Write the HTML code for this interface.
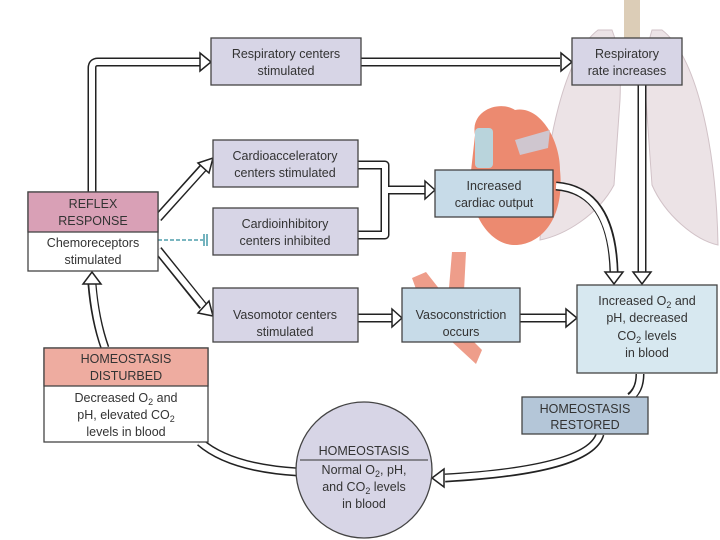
<!DOCTYPE html>
<html><head><meta charset="utf-8"><style>
html,body{margin:0;padding:0;background:#fff;}
svg{display:block;}
text{font-family:"Liberation Sans",sans-serif;font-size:12.5px;fill:#333;text-anchor:middle;}
</style></head><body>
<svg width="720" height="540" viewBox="0 0 720 540" xmlns="http://www.w3.org/2000/svg">
<!-- lungs -->
<g opacity="0.9">
<path d="M598,30 C565,55 545,140 540,240 C565,235 598,215 614,185 L620,100 Q622,55 612,30 Z" fill="#ebe0e4" stroke="#cdbcc2"/>
<path d="M662,30 C695,55 716,140 718,245 C695,240 665,215 652,185 L646,100 Q644,55 652,30 Z" fill="#ebe0e4" stroke="#cdbcc2"/>
<rect x="624" y="0" width="16" height="40" fill="#d9c8b0"/>
</g>
<!-- heart -->
<path d="M475,135 C470,110 500,100 515,110 C540,105 560,140 560,170 C565,220 540,245 515,245 C490,245 470,215 470,180 Z" fill="#ec8a70"/>
<rect x="475" y="128" width="18" height="40" rx="4" fill="#b9d4dc"/>
<path d="M515,140 L550,130 L548,148 L520,155 Z" fill="#cfc6cf"/>
<!-- vessel -->
<path d="M452,252 L466,252 L462,330 L482,350 L476,364 L450,340 L420,300 L412,278 L426,272 L448,300 Z" fill="#ee9d8a"/>

<!-- hollow arrows -->
<g fill="none" stroke-linejoin="round">
<g stroke="#222" stroke-width="9">
<path d="M92,192 V68 Q92,62 98,62 H200"/>
<path d="M361,62 H560"/>
<path d="M642,85 V272"/>
<path d="M556,186 Q612,190 614,272"/>
<path d="M158,218 L203,168"/>
<path d="M158,250 L203,306"/>
<path d="M358,165 H385 V235 H358 M385,190 H425"/>
<path d="M358,318 H392"/>
<path d="M520,318 H566"/>
<path d="M640,374 Q640,390 630,397"/>
<path d="M600,434 Q590,470 445,478"/>
<path d="M200,442 Q230,468 298,472"/>
<path d="M105,348 Q95,320 92,284"/>
</g>
<g stroke="#fff" stroke-width="6">
<path d="M92,192 V68 Q92,62 98,62 H203"/>
<path d="M361,62 H563"/>
<path d="M642,85 V275"/>
<path d="M556,186 Q612,190 614,275"/>
<path d="M158,218 L205,166"/>
<path d="M158,250 L205,308"/>
<path d="M358,165 H385 V235 H358 M385,190 H428"/>
<path d="M358,318 H395"/>
<path d="M520,318 H569"/>
<path d="M640,374 Q640,390 630,398"/>
<path d="M600,434 Q590,470 442,478"/>
<path d="M200,442 Q230,468 299,472"/>
<path d="M105,348 Q95,320 92,281"/>
</g>
</g>
<!-- arrowheads -->
<g fill="#fff" stroke="#222" stroke-width="1.5">
<polygon points="200,53 211,62 200,71"/>
<polygon points="561,53 572,62 561,71"/>
<polygon points="633,272 651,272 642,284"/>
<polygon points="605,272 623,272 614,284"/>
<polygon points="198,163 213,158 209,173"/>
<polygon points="198,313 213,316 209,301"/>
<polygon points="425,181 435,190 425,199"/>
<polygon points="392,309 402,318 392,327"/>
<polygon points="566,309 577,318 566,327"/>
<polygon points="444,469 432,478 444,487"/>
<polygon points="83,284 101,284 92,272"/>
</g>
<!-- dashed inhibit -->
<line x1="158" y1="240" x2="203" y2="240" stroke="#2a8a9a" stroke-width="1.3" stroke-dasharray="4,2"/>
<line x1="204" y1="234" x2="204" y2="246" stroke="#2a8a9a" stroke-width="1.3"/>
<line x1="207" y1="234" x2="207" y2="246" stroke="#2a8a9a" stroke-width="1.3"/>

<!-- boxes -->
<g stroke="#444" stroke-width="1.3">
<rect x="211" y="38" width="150" height="47" fill="#d7d5e6"/>
<rect x="572" y="38" width="110" height="47" fill="#d7d5e6"/>
<rect x="213" y="140" width="145" height="47" fill="#d7d5e6"/>
<rect x="213" y="208" width="145" height="47" fill="#d7d5e6"/>
<rect x="435" y="170" width="118" height="47" fill="#c7dbe8"/>
<rect x="28" y="192" width="130" height="79" fill="#fff"/>
<rect x="28" y="192" width="130" height="40" fill="#d9a0b6"/>
<rect x="213" y="288" width="145" height="54" fill="#d7d5e6"/>
<rect x="402" y="288" width="118" height="54" fill="#c7dbe8"/>
<rect x="577" y="285" width="140" height="88" fill="#d7e8f0"/>
<rect x="522" y="397" width="126" height="37" fill="#b4c6d8"/>
<rect x="44" y="348" width="164" height="94" fill="#fff"/>
<rect x="44" y="348" width="164" height="38" fill="#eeaca0"/>
<ellipse cx="364" cy="470" rx="68" ry="68" fill="#d7d5e6"/>
</g>
<line x1="300" y1="460" x2="428" y2="460" stroke="#333" stroke-width="1"/>

<!-- text -->
<text x="286" y="58">Respiratory centers</text>
<text x="286" y="75">stimulated</text>
<text x="627" y="58">Respiratory</text>
<text x="627" y="75">rate increases</text>
<text x="285" y="160">Cardioacceleratory</text>
<text x="285" y="177">centers stimulated</text>
<text x="285" y="228">Cardioinhibitory</text>
<text x="285" y="245">centers inhibited</text>
<text x="494" y="190">Increased</text>
<text x="494" y="207">cardiac output</text>
<text x="93" y="208">REFLEX</text>
<text x="93" y="225">RESPONSE</text>
<text x="93" y="247">Chemoreceptors</text>
<text x="93" y="264">stimulated</text>
<text x="285" y="319">Vasomotor centers</text>
<text x="285" y="336">stimulated</text>
<text x="461" y="319">Vasoconstriction</text>
<text x="461" y="336">occurs</text>
<text x="647" y="305">Increased O<tspan font-size="9" dy="3">2</tspan><tspan dy="-3"> and</tspan></text>
<text x="647" y="322">pH, decreased</text>
<text x="647" y="340">CO<tspan font-size="9" dy="3">2</tspan><tspan dy="-3"> levels</tspan></text>
<text x="647" y="357">in blood</text>
<text x="585" y="413">HOMEOSTASIS</text>
<text x="585" y="429">RESTORED</text>
<text x="126" y="363">HOMEOSTASIS</text>
<text x="126" y="380">DISTURBED</text>
<text x="126" y="402">Decreased O<tspan font-size="9" dy="3">2</tspan><tspan dy="-3"> and</tspan></text>
<text x="126" y="419">pH, elevated CO<tspan font-size="9" dy="3">2</tspan></text>
<text x="126" y="436">levels in blood</text>
<text x="364" y="455">HOMEOSTASIS</text>
<text x="364" y="474">Normal O<tspan font-size="9" dy="3">2</tspan><tspan dy="-3">, pH,</tspan></text>
<text x="364" y="491">and CO<tspan font-size="9" dy="3">2</tspan><tspan dy="-3"> levels</tspan></text>
<text x="364" y="508">in blood</text>
</svg>
</body></html>
